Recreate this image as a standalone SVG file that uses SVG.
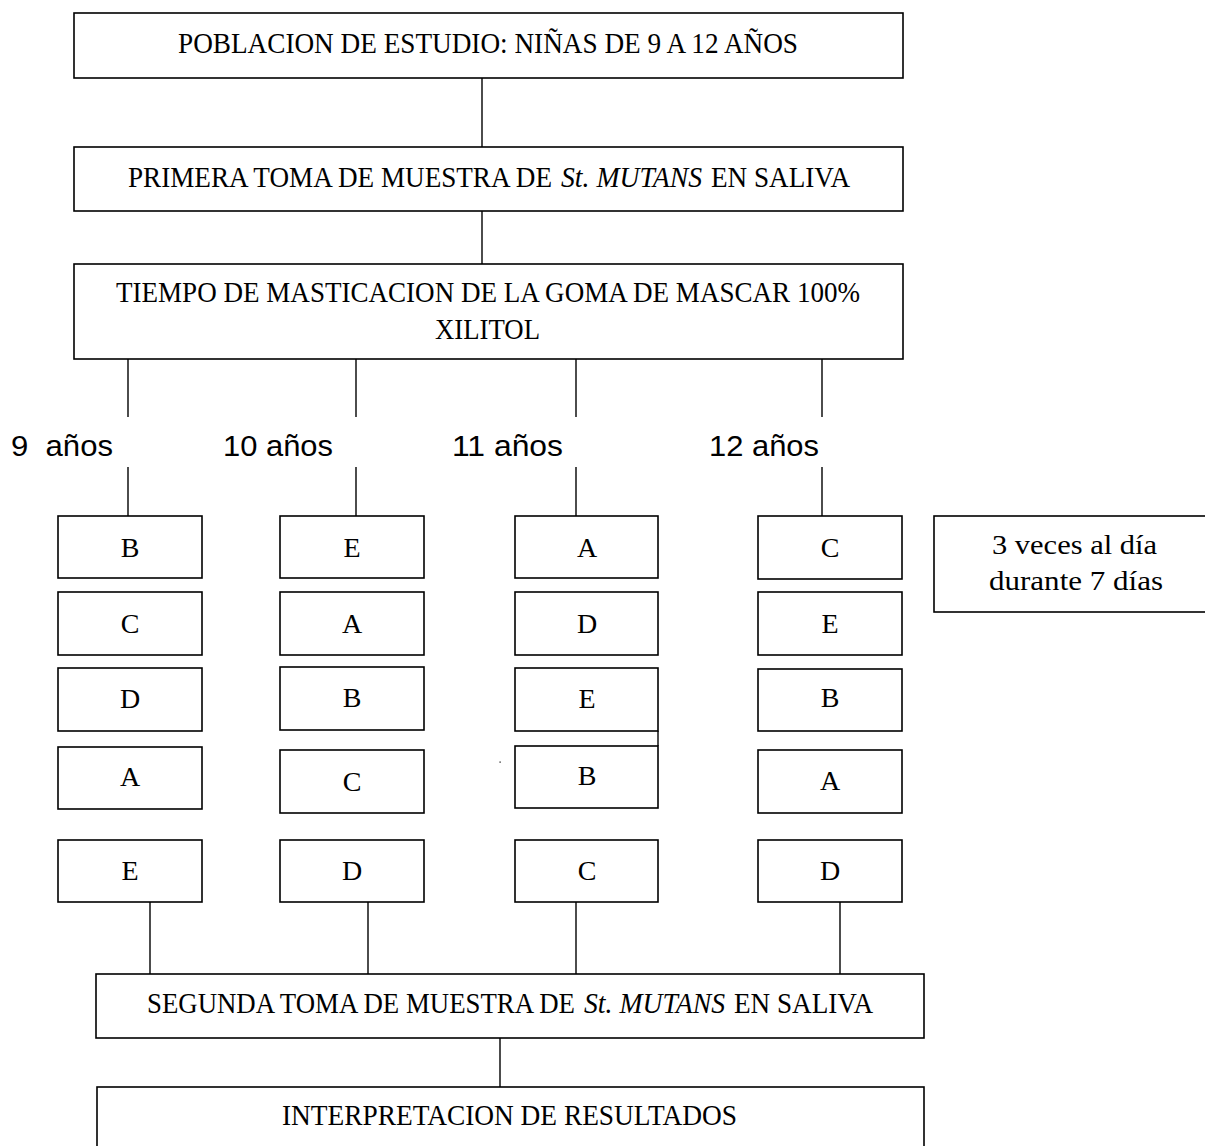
<svg xmlns="http://www.w3.org/2000/svg" width="1205" height="1146" viewBox="0 0 1205 1146">
<style>
  .box { fill: #ffffff; stroke: #000000; stroke-width: 1.6; }
  .ln { fill: none; stroke: #000000; stroke-width: 1.4; }
  .t { font-family: "Liberation Serif", "DejaVu Serif", serif; font-size: 30px; fill: #000000; }
  .lt { font-family: "Liberation Serif", "DejaVu Serif", serif; font-size: 28px; fill: #000000; text-anchor: middle; }
  .st { font-family: "Liberation Serif", "DejaVu Serif", serif; font-size: 27px; fill: #000000; }
  .age { font-family: "Liberation Sans", Arial, sans-serif; font-size: 29px; fill: #000000; }
  .it { font-style: italic; }
</style>
<rect width="1205" height="1146" fill="#ffffff"/>

<g id="connectors">
  <line class="ln" x1="482" y1="78" x2="482" y2="147"/>
  <line class="ln" x1="482" y1="211" x2="482" y2="264"/>
  <line class="ln" x1="128" y1="359" x2="128" y2="417"/>
  <line class="ln" x1="356" y1="359" x2="356" y2="417"/>
  <line class="ln" x1="576" y1="359" x2="576" y2="417"/>
  <line class="ln" x1="822" y1="359" x2="822" y2="417"/>
  <line class="ln" x1="128" y1="467" x2="128" y2="516"/>
  <line class="ln" x1="356" y1="467" x2="356" y2="516"/>
  <line class="ln" x1="576" y1="467" x2="576" y2="516"/>
  <line class="ln" x1="822" y1="467" x2="822" y2="516"/>
  <line class="ln" x1="150" y1="902" x2="150" y2="974"/>
  <line class="ln" x1="368" y1="902" x2="368" y2="974"/>
  <line class="ln" x1="576" y1="902" x2="576" y2="974"/>
  <line class="ln" x1="840" y1="902" x2="840" y2="974"/>
  <line class="ln" x1="500" y1="1038" x2="500" y2="1087"/>
  <line class="ln" x1="658" y1="731" x2="658" y2="746"/>
  <rect x="499.5" y="761.5" width="1.2" height="1.2" fill="#000000"/>
</g>

<g id="poblacion">
  <rect class="box" x="74" y="13" width="829" height="65"/>
  <text class="t" x="178" y="53" textLength="620" lengthAdjust="spacingAndGlyphs">POBLACION DE ESTUDIO: NIÑAS DE 9 A 12 AÑOS</text>
</g>

<g id="primera">
  <rect class="box" x="74" y="147" width="829" height="64"/>
  <text class="t" x="128" y="187" textLength="424" lengthAdjust="spacingAndGlyphs">PRIMERA TOMA DE MUESTRA DE</text>
  <text class="t it" x="561" y="187" textLength="141" lengthAdjust="spacingAndGlyphs">St. MUTANS</text>
  <text class="t" x="711" y="187" textLength="139" lengthAdjust="spacingAndGlyphs">EN SALIVA</text>
</g>

<g id="tiempo">
  <rect class="box" x="74" y="264" width="829" height="95"/>
  <text class="t" x="116" y="302" textLength="744" lengthAdjust="spacingAndGlyphs">TIEMPO DE MASTICACION DE LA GOMA DE MASCAR 100%</text>
  <text class="t" x="435" y="339" textLength="105" lengthAdjust="spacingAndGlyphs">XILITOL</text>
</g>

<g id="ages">
  <text class="age" x="11" y="456" xml:space="preserve" textLength="102" lengthAdjust="spacingAndGlyphs">9  años</text>
  <text class="age" x="223" y="456" textLength="110" lengthAdjust="spacingAndGlyphs">10 años</text>
  <text class="age" x="452" y="456" textLength="111" lengthAdjust="spacingAndGlyphs">11 años</text>
  <text class="age" x="709" y="456" textLength="110" lengthAdjust="spacingAndGlyphs">12 años</text>
</g>

<g id="col9">
  <g id="c9r1"><rect class="box" x="58" y="516" width="144" height="62"/><text class="lt" x="130" y="557">B</text></g>
  <g id="c9r2"><rect class="box" x="58" y="592" width="144" height="63"/><text class="lt" x="130" y="633">C</text></g>
  <g id="c9r3"><rect class="box" x="58" y="668" width="144" height="63"/><text class="lt" x="130" y="708">D</text></g>
  <g id="c9r4"><rect class="box" x="58" y="747" width="144" height="62"/><text class="lt" x="130" y="786">A</text></g>
  <g id="c9r5"><rect class="box" x="58" y="840" width="144" height="62"/><text class="lt" x="130" y="880">E</text></g>
</g>

<g id="col10">
  <g id="c10r1"><rect class="box" x="280" y="516" width="144" height="62"/><text class="lt" x="352" y="557">E</text></g>
  <g id="c10r2"><rect class="box" x="280" y="592" width="144" height="63"/><text class="lt" x="352" y="633">A</text></g>
  <g id="c10r3"><rect class="box" x="280" y="667" width="144" height="63"/><text class="lt" x="352" y="707">B</text></g>
  <g id="c10r4"><rect class="box" x="280" y="750" width="144" height="63"/><text class="lt" x="352" y="791">C</text></g>
  <g id="c10r5"><rect class="box" x="280" y="840" width="144" height="62"/><text class="lt" x="352" y="880">D</text></g>
</g>

<g id="col11">
  <g id="c11r1"><rect class="box" x="515" y="516" width="143" height="62"/><text class="lt" x="587" y="557">A</text></g>
  <g id="c11r2"><rect class="box" x="515" y="592" width="143" height="63"/><text class="lt" x="587" y="633">D</text></g>
  <g id="c11r3"><rect class="box" x="515" y="668" width="143" height="63"/><text class="lt" x="587" y="708">E</text></g>
  <g id="c11r4"><rect class="box" x="515" y="746" width="143" height="62"/><text class="lt" x="587" y="785">B</text></g>
  <g id="c11r5"><rect class="box" x="515" y="840" width="143" height="62"/><text class="lt" x="587" y="880">C</text></g>
</g>

<g id="col12">
  <g id="c12r1"><rect class="box" x="758" y="516" width="144" height="63"/><text class="lt" x="830" y="557">C</text></g>
  <g id="c12r2"><rect class="box" x="758" y="592" width="144" height="63"/><text class="lt" x="830" y="633">E</text></g>
  <g id="c12r3"><rect class="box" x="758" y="669" width="144" height="62"/><text class="lt" x="830" y="707">B</text></g>
  <g id="c12r4"><rect class="box" x="758" y="750" width="144" height="63"/><text class="lt" x="830" y="790">A</text></g>
  <g id="c12r5"><rect class="box" x="758" y="840" width="144" height="62"/><text class="lt" x="830" y="880">D</text></g>
</g>

<g id="frecuencia">
  <rect class="box" x="934" y="516" width="290" height="96"/>
  <text class="st" x="992" y="554" textLength="165" lengthAdjust="spacingAndGlyphs">3 veces al día</text>
  <text class="st" x="989" y="590" textLength="174" lengthAdjust="spacingAndGlyphs">durante 7 días</text>
</g>

<g id="segunda">
  <rect class="box" x="96" y="974" width="828" height="64"/>
  <text class="t" x="147" y="1013" textLength="428" lengthAdjust="spacingAndGlyphs">SEGUNDA TOMA DE MUESTRA DE</text>
  <text class="t it" x="584" y="1013" textLength="141" lengthAdjust="spacingAndGlyphs">St. MUTANS</text>
  <text class="t" x="734" y="1013" textLength="139" lengthAdjust="spacingAndGlyphs">EN SALIVA</text>
</g>

<g id="interpretacion">
  <rect class="box" x="97" y="1087" width="827" height="80"/>
  <text class="t" x="282" y="1125" textLength="455" lengthAdjust="spacingAndGlyphs">INTERPRETACION DE RESULTADOS</text>
</g>
</svg>
